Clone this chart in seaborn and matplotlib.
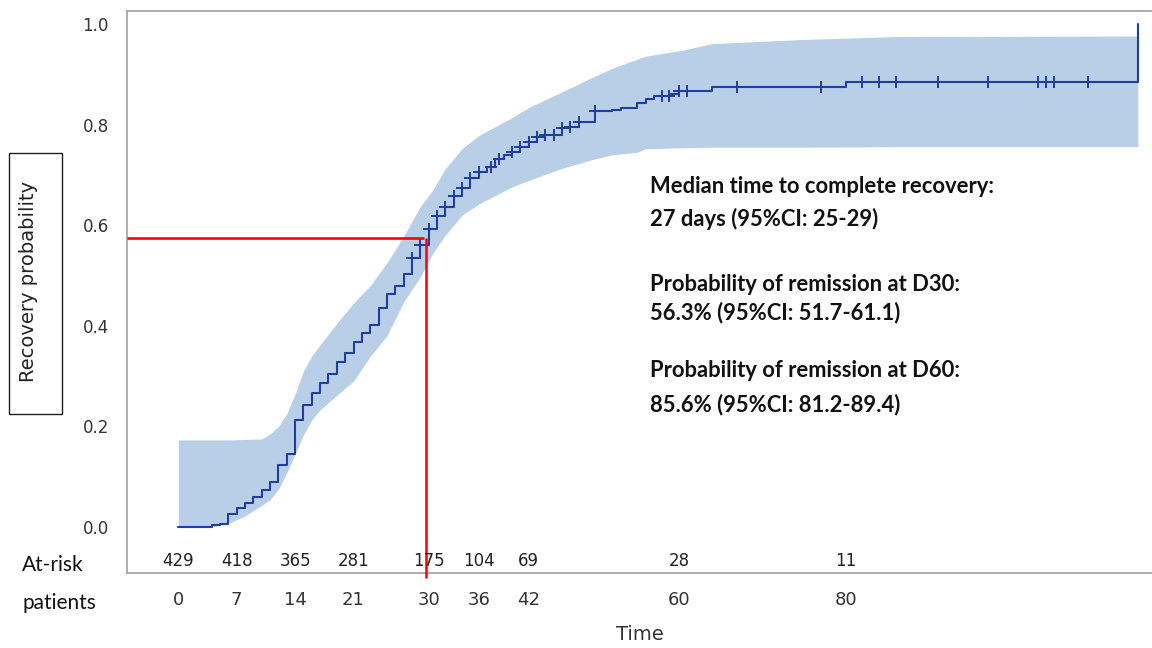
import numpy as np
import pandas as pd
import matplotlib
matplotlib.use("Agg")
import matplotlib.pyplot as plt
import seaborn as sns
from matplotlib.patches import Rectangle
from matplotlib.transforms import blended_transform_factory

# ---------------- data ----------------
step_time = [0, 4, 5, 6, 7, 8, 9, 10, 11, 12, 13, 14, 15, 16, 17, 18, 19, 20, 21, 22,
             23, 24, 25, 26, 27, 28, 29, 30, 31, 32, 33, 34, 35, 36, 37, 38, 39, 40,
             41, 42, 43, 44, 46, 47, 48, 50, 52, 53, 55, 56, 57, 59, 60, 64, 80, 115]
step_prob = [0.000, 0.003, 0.006, 0.026, 0.038, 0.048, 0.060, 0.074, 0.090, 0.123,
             0.145, 0.213, 0.243, 0.267, 0.286, 0.305, 0.328, 0.346, 0.368, 0.386,
             0.402, 0.435, 0.463, 0.479, 0.502, 0.535, 0.561, 0.593, 0.619, 0.637,
             0.658, 0.673, 0.693, 0.706, 0.716, 0.731, 0.740, 0.746, 0.755, 0.766,
             0.775, 0.779, 0.793, 0.796, 0.806, 0.826, 0.829, 0.833, 0.842, 0.850,
             0.857, 0.861, 0.867, 0.875, 0.885, 1.000]

censor_time = [28, 29, 30, 31, 32, 33, 34, 35, 36, 37.5, 38.4, 40, 41, 42, 43, 44, 45,
               46, 47, 48, 50, 58, 58.8, 60, 61, 67, 77, 82, 84, 86, 91, 97, 103, 104,
               105, 109]

ci_time = [0, 4, 6, 8, 10, 11, 12, 13, 14, 15, 16, 17, 19, 21, 23, 25, 27, 29, 30.5,
           32, 34, 36, 40, 42, 46, 49.5, 52, 55, 56, 60.5, 64, 74.5, 86, 115]
ci_upper = [0.173, 0.173, 0.173, 0.174, 0.175, 0.185, 0.200, 0.225, 0.265, 0.310,
            0.340, 0.362, 0.405, 0.445, 0.480, 0.525, 0.578, 0.637, 0.670, 0.712,
            0.752, 0.778, 0.814, 0.834, 0.865, 0.893, 0.912, 0.930, 0.936, 0.948,
            0.961, 0.969, 0.975, 0.976]
ci_lower = [0.000, 0.000, 0.007, 0.022, 0.043, 0.054, 0.075, 0.108, 0.145, 0.183,
            0.213, 0.233, 0.262, 0.290, 0.339, 0.380, 0.447, 0.497, 0.544, 0.580,
            0.620, 0.642, 0.676, 0.689, 0.713, 0.730, 0.740, 0.745, 0.752, 0.754,
            0.755, 0.755, 0.756, 0.756]

risk_time = [0, 7, 14, 21, 30, 36, 42, 60, 80]
risk_n = [429, 418, 365, 281, 175, 104, 69, 28, 11]

ref_time = 29.7
ref_prob = 0.575

y_ticks = [0.0, 0.2, 0.4, 0.6, 0.8, 1.0]

info_lines = ["Median time to complete recovery:",
              "27 days (95%CI: 25-29)",
              "Probability of remission at D30:",
              "56.3% (95%CI: 51.7-61.1)",
              "Probability of remission at D60:",
              "85.6% (95%CI: 81.2-89.4)"]

# ---------------- style ----------------
sns.set_theme(style="white")
plt.rcParams['font.family'] = ['DejaVu Sans']

BLUE = "#1f3f99"
BAND = "#b9cfe7"
GREY = "#a0a0a0"
TXT = "#333333"

W, H = 1152, 648
fig = plt.figure(figsize=(W / 100, H / 100), dpi=100)
ax = fig.add_axes([127 / W, 1 - 573 / H, 1 - 127 / W, (573 - 11) / H])

df_steps = pd.DataFrame({"time": step_time, "prob": step_prob})
df_ci = pd.DataFrame({"time": ci_time, "lo": ci_lower, "hi": ci_upper})

# confidence band
ax.fill_between(df_ci["time"], df_ci["lo"], df_ci["hi"], color=BAND, linewidth=0, zorder=1)

# KM step curve
sns.lineplot(data=df_steps, x="time", y="prob", drawstyle="steps-post", color=BLUE,
             linewidth=1.5, estimator=None, ax=ax, zorder=3)

# censor marks on the curve
st = np.asarray(step_time)
sp = np.asarray(step_prob)
idx = np.searchsorted(st, np.asarray(censor_time), side="right") - 1
df_cens = pd.DataFrame({"time": censor_time, "prob": sp[idx]})
sns.scatterplot(data=df_cens, x="time", y="prob", marker="+", s=70, color=BLUE,
                linewidth=1.4, ax=ax, zorder=4)

xmin, xmax = -6.15, 116.7
ymin, ymax = -0.0915, 1.0258
ax.set_xlim(xmin, xmax)
ax.set_ylim(ymin, ymax)

# red reference lines
ax.plot([xmin, ref_time - 0.3], [ref_prob, ref_prob], color="red", lw=1.9, zorder=5,
        solid_capstyle="butt")
ax.plot([ref_time, ref_time], [ref_prob, ymin - 0.01], color="red", lw=1.8, zorder=5,
        clip_on=False, solid_capstyle="butt")

# axes styling
for side in ["left", "top", "bottom"]:
    ax.spines[side].set_color(GREY)
    ax.spines[side].set_linewidth(1.2)
ax.spines["right"].set_visible(False)

ax.set_xticks(risk_time)
ax.set_xticklabels([str(t) for t in risk_time])
ax.set_yticks(y_ticks)
ax.set_yticklabels([f"{v:.1f}" for v in y_ticks])
ax.tick_params(axis="x", direction="out", length=7, width=1, color=GREY,
               labelcolor=TXT, labelsize=13, pad=6)
ax.tick_params(axis="y", direction="out", length=7, width=1, color=GREY,
               labelcolor=TXT, labelsize=12, pad=6)
ax.set_xlabel("")
ax.set_ylabel("")

# at-risk numbers inside the bottom of the axes
trans = blended_transform_factory(ax.transData, ax.transAxes)
for t, n in zip(risk_time, risk_n):
    ax.text(t, 0.021, str(n), transform=trans, ha="center", va="center",
            fontsize=12, color="#222222", zorder=6)

# x axis title
fig.text(640 / W, 1 - 635 / H, "Time", ha="center", va="center", fontsize=14, color=TXT)

# boxed y label
fig.patches.append(Rectangle((9 / W, 1 - 414 / H), 53 / W, 261 / H, transform=fig.transFigure,
                             fill=False, edgecolor="#222222", linewidth=1.0))
fig.text(28.5 / W, 1 - 281 / H, "Recovery probability", rotation=90, ha="center",
         va="center", fontsize=14, color="#222222")

# at-risk row label
fig.text(22 / W, 1 - 565 / H, "At-risk", ha="left", va="center", fontsize=15,
         family=["Lato", "DejaVu Sans"], color="#111111")
fig.text(22 / W, 1 - 603 / H, "patients", ha="left", va="center", fontsize=15,
         family=["Lato", "DejaVu Sans"], color="#111111")

# summary annotations
baselines = [193, 226, 291, 319, 377, 411]
for txt, yb in zip(info_lines, baselines):
    fig.text(650 / W, 1 - yb / H, txt, ha="left", va="baseline", fontsize=15.8,
             fontweight="bold", family=["Lato", "DejaVu Sans"], color="#111111")

fig.savefig("out.png", dpi=100)
